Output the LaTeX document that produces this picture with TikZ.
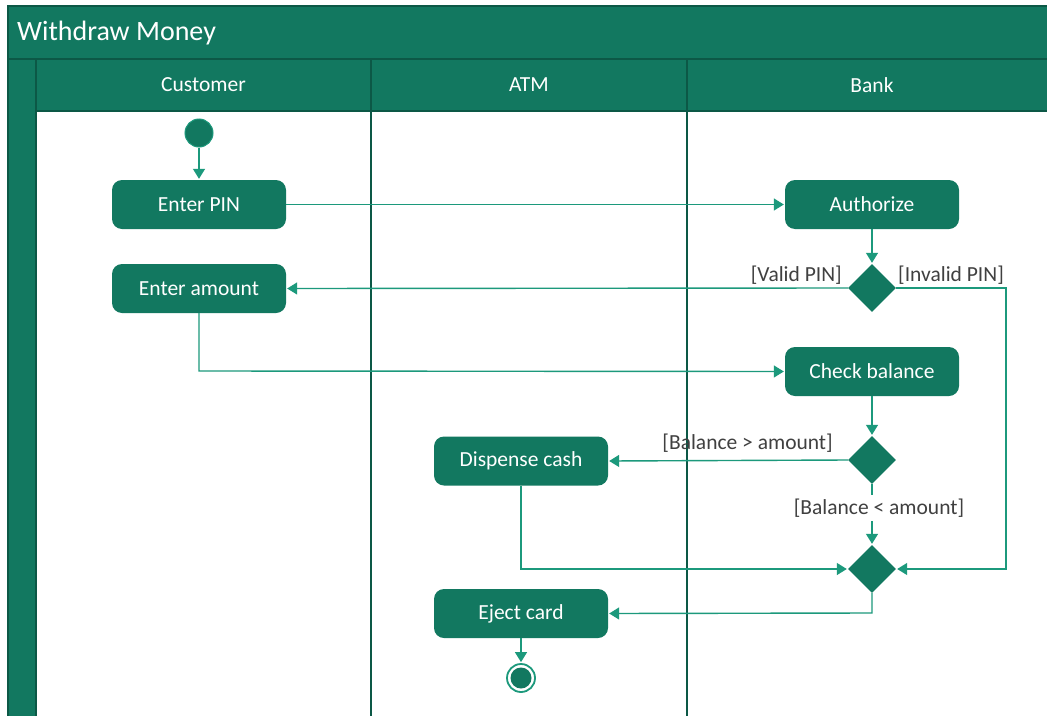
\documentclass[tikz,border=0pt]{standalone}
\usepackage{fontspec}
\setmainfont{Carlito}
\usetikzlibrary{arrows.meta,shapes.geometric}
\definecolor{swim}{RGB}{18,120,96}
\definecolor{frameline}{RGB}{12,88,70}
\definecolor{flowc}{RGB}{28,153,124}
\definecolor{guardgray}{RGB}{64,64,64}
\begin{document}
\begin{tikzpicture}[x=1pt,y=-1pt,
  frame/.style={draw=frameline, line width=2pt},
  lanehead/.style={text=white, font=\fontsize{21.5}{25}\selectfont, inner sep=0pt},
  action/.style={rounded corners=10pt, fill=swim, text=white, minimum width=174pt,
    minimum height=49pt, inner sep=0pt, font=\fontsize{21.5}{25}\selectfont},
  decision/.style={diamond, fill=swim, minimum width=48pt, minimum height=48pt, inner sep=0pt},
  flow/.style={draw=flowc, line width=1.4pt, -{Triangle[length=10pt,width=12pt]}, shorten >=1pt},
  guard/.style={text=guardgray, font=\fontsize{21.5}{25}\selectfont, inner sep=1pt}
]
\useasboundingbox (0,0) rectangle (1047,715);
\clip (0,0) rectangle (1047,715);

% swimlane pool: title bar, lane headers and left strip
\fill[white] (0,0) rectangle (1047,715);
\fill[swim] (8,6) rectangle (1060,111);
\fill[swim] (8,6) rectangle (36,730);
\draw[frame] (8,730) -- (8,6) -- (1060,6);
\draw[frame] (8,59) -- (1060,59);
\draw[frame] (36,111) -- (1060,111);
\draw[frame] (36,59) -- (36,730);
\draw[frame] (371,59) -- (371,730);
\draw[frame] (687,59) -- (687,730);

\node[text=white, font=\fontsize{28}{33}\selectfont, anchor=west, inner sep=0pt] (title) at (17,33) {Withdraw Money};
\node[lanehead] (hcust) at (203.5,85) {Customer};
\node[lanehead] (hatm) at (529,85) {ATM};
\node[lanehead] (hbank) at (872,85) {Bank};

% activity nodes
\node[circle, fill=swim, draw=flowc, line width=1pt, minimum size=28pt, inner sep=0pt] (start) at (199,133) {};
\node[action] (pin) at (199,204.5) {Enter PIN};
\node[action] (auth) at (872,204.5) {Authorize};
\node[decision] (d1) at (872,288) {};
\node[action] (amount) at (199,288.5) {Enter amount};
\node[action] (check) at (872,371.5) {Check balance};
\node[decision] (d2) at (872,460) {};
\node[action] (dispense) at (521,461) {Dispense cash};
\node[decision] (d3) at (872,569) {};
\node[action] (eject) at (521,613.5) {Eject card};
\node[circle, draw=flowc, line width=1.8pt, minimum size=28pt, inner sep=0pt,
  path picture={\fill[swim] (path picture bounding box.center) circle (10.5pt);}] (stop) at (521,678) {};

% control flow
\draw[flow] (start) -- (pin);
\draw[flow] (pin) -- (auth);
\draw[flow] (auth) -- (d1);
\draw[flow] (d1.west) -- (amount.east);
\draw[flow] (d1.east) -- (1006,288) -- (1006,569) -- (d3.east);
\draw[flow] (amount.south) -- (199,371) -- (check.west);
\draw[flow] (check) -- (d2);
\draw[flow] (d2.west) -- (dispense.east);
\draw[flow] (d2.south) -- (d3.north);
\draw[flow] (dispense.south) -- (521,569) -- (d3.west);
\draw[flow] (d3.south) -- (872,613) -- (eject.east);
\draw[flow] (eject) -- (stop);

% guards
\node[guard, anchor=south east] (gvalid) at (843,286) {[Valid PIN]};
\node[guard, anchor=south west] (ginvalid) at (897,286) {[Invalid PIN]};
\node[guard, anchor=south east] (gmore) at (834,454) {[Balance > amount]};
\node[guard, fill=white, inner ysep=4pt] (gless) at (879,508) {[Balance < amount]};
\end{tikzpicture}
\end{document}
